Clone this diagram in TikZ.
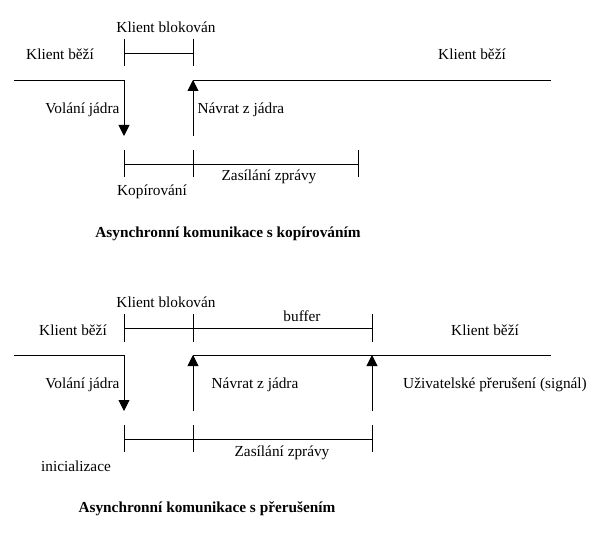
\documentclass[tikz,border=0pt]{standalone}
\usepackage{fontspec}
\setmainfont{Liberation Serif}
\usetikzlibrary{arrows.meta}

\begin{document}
\begin{tikzpicture}[x=1pt,y=-1pt,font=\fontsize{15.3}{17}\selectfont,
    cara/.style={line width=0.9pt},
    sipka/.style={cara,-{Triangle[width=11pt,length=11pt]}},
    nadpis/.style={font=\fontsize{15.3}{17}\selectfont\bfseries}]
  \useasboundingbox (0,0) rectangle (609,534);

  % Prvni diagram
  \node (blok1) at (166,27) {Klient blokován};
  \node (bezi1l) at (60,54) {Klient běží};
  \node (bezi1r) at (472,54) {Klient běží};
  \node[anchor=east] (vol1) at (123,110) {Volání jádra};
  \node[anchor=west] (nav1) at (194,110) {Návrat z jádra};
  \node (kop1) at (152,192) {Kopírování};
  \node (zas1) at (269,177) {Zasílání zprávy};
  \node[nadpis] (tit1) at (228,234) {Asynchronní komunikace s kopírováním};

  \coordinate (s1) at (14,80);
  \coordinate (v1) at (124,80);
  \coordinate (vk1) at (124,136);
  \coordinate (nk1) at (193,136);
  \coordinate (n1) at (193,80);
  \coordinate (e1) at (551,80);
  \coordinate (ha1) at (124,39);
  \coordinate (hb1) at (193,39);
  \coordinate (da1) at (124,150);
  \coordinate (db1) at (193,150);
  \coordinate (dc1) at (358,150);

  \draw[cara] (s1) -- (v1);
  \draw[sipka] (v1) -- (vk1);
  \draw[sipka] (nk1) -- (n1);
  \draw[cara] (n1) -- (e1);
  \draw[cara] (ha1) -- ++(0,27) (hb1) -- ++(0,27);
  \draw[cara] ([yshift=-14pt]ha1) -- ([yshift=-14pt]hb1);
  \draw[cara] (da1) -- ++(0,27) (db1) -- ++(0,27) (dc1) -- ++(0,27);
  \draw[cara] ([yshift=-14pt]da1) -- ([yshift=-14pt]dc1);

  % Druhy diagram
  \node (blok2) at (166,302) {Klient blokován};
  \node (buf2) at (302,316) {buffer};
  \node (bezi2l) at (73,330) {Klient běží};
  \node (bezi2r) at (485,330) {Klient běží};
  \node[anchor=east] (vol2) at (123,385) {Volání jádra};
  \node (nav2) at (255,385) {Návrat z jádra};
  \node (uziv2) at (495,385) {Uživatelské přerušení (signál)};
  \node (zas2) at (282,453) {Zasílání zprávy};
  \node (ini2) at (76,466) {inicializace};
  \node[nadpis] (tit2) at (207,509) {Asynchronní komunikace s přerušením};

  \coordinate (s2) at (14,355);
  \coordinate (v2) at (124,355);
  \coordinate (vk2) at (124,411);
  \coordinate (nk2) at (193,411);
  \coordinate (n2) at (193,355);
  \coordinate (uk2) at (372,411);
  \coordinate (u2) at (372,355);
  \coordinate (e2) at (551,355);
  \coordinate (ha2) at (124,314);
  \coordinate (hb2) at (193,314);
  \coordinate (hc2) at (372,314);
  \coordinate (da2) at (124,425);
  \coordinate (db2) at (193,425);
  \coordinate (dc2) at (372,425);

  \draw[cara] (s2) -- (v2);
  \draw[sipka] (v2) -- (vk2);
  \draw[sipka] (nk2) -- (n2);
  \draw[sipka] (uk2) -- (u2);
  \draw[cara] (n2) -- (e2);
  \draw[cara] (ha2) -- ++(0,28) (hb2) -- ++(0,28) (hc2) -- ++(0,28);
  \draw[cara] ([yshift=-14pt]ha2) -- ([yshift=-14pt]hc2);
  \draw[cara] (da2) -- ++(0,27) (db2) -- ++(0,27) (dc2) -- ++(0,27);
  \draw[cara] ([yshift=-14pt]da2) -- ([yshift=-14pt]dc2);
\end{tikzpicture}
\end{document}
